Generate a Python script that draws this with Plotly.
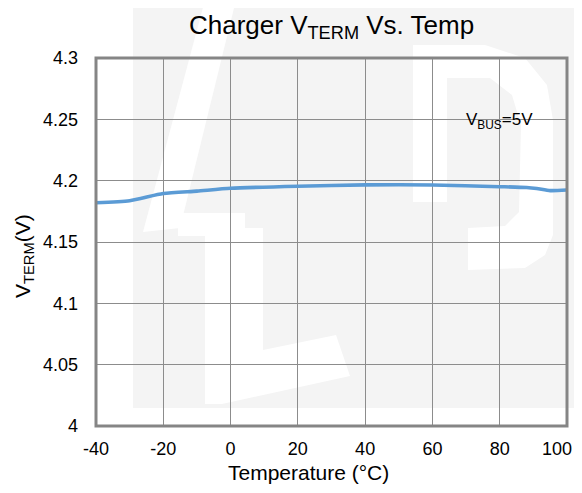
import plotly.graph_objects as go

# ---- data ----
temps = [-40, -30, -20, -10, 0, 20, 40, 60, 80, 88, 91, 95, 100]
vterm = [4.182, 4.1837, 4.1895, 4.1915, 4.1938, 4.1955, 4.1966, 4.1965, 4.1951, 4.1944, 4.1936, 4.1919, 4.1924]
x_ticks = [-40, -20, 0, 20, 40, 60, 80, 100]
x_ticklabels = ["-40", "-20", "0", "20", "40", "60", "80", "100\u2007\u2007"]
y_ticks = [4.0, 4.05, 4.1, 4.15, 4.2, 4.25, 4.3]
y_ticklabels = ["4", "4.05", "4.1", "4.15", "4.2", "4.25", "4.3"]

FONT = "Liberation Sans, Arial, sans-serif"
OFF = 8                      # page body margin in the browser
W, H = 582 - OFF, 493 - 2 * OFF
L, R, T, B = 96, 567, 58, 426  # plot area in page pixels


def px(X):
    return (X - L) / (R - L)


def py(Y):
    return (B - Y) / (B - T)


def path(points):
    return "M " + " L ".join(f"{px(x):.4f},{py(y):.4f}" for x, y in points) + " Z"


fig = go.Figure()
fig.add_trace(go.Scatter(
    x=temps, y=vterm, mode="lines",
    line=dict(color="#5B9BD5", width=3.6, shape="spline", smoothing=0.6),
    showlegend=False, hoverinfo="skip",
))

shapes = []
# faint watermark background
shapes.append(dict(type="rect", xref="paper", yref="paper", layer="below",
                   x0=px(133), x1=px(590), y0=py(408), y1=py(0),
                   fillcolor="#f4f4f4", line=dict(width=0)))
white = dict(fillcolor="#ffffff", line=dict(width=0), layer="below",
             xref="paper", yref="paper", type="path")
# diagonal stroke
shapes.append(dict(white, path=path([(205, 0), (236, 0), (180, 228), (143, 232)])))
# t / L shape
shapes.append(dict(white, path=path([(178, 213), (245, 213), (245, 228), (263, 228),
                                     (263, 350), (336, 335), (350, 376), (222, 404),
                                     (205, 404), (205, 236), (178, 236)])))
# arch / hook shape on the right
shapes.append(dict(white, path=path([(413, 45), (485, 45), (525, 58), (547, 85), (553, 120),
                                     (553, 235), (545, 255), (525, 268), (468, 270),
                                     (468, 228), (505, 226), (519, 212), (521, 125),
                                     (512, 95), (490, 78), (447, 78), (447, 202), (413, 202)])))
# plot frame
shapes.append(dict(type="rect", xref="paper", yref="paper", layer="above",
                   x0=0, x1=1, y0=0, y1=1, line=dict(color="#858585", width=3),
                   fillcolor="rgba(0,0,0,0)"))

fig.update_layout(
    width=W, height=H, autosize=False,
    margin=dict(l=L - OFF, r=(W + OFF) - R, t=T - OFF, b=(H + OFF) - B, pad=0),
    paper_bgcolor="#ffffff", plot_bgcolor="rgba(0,0,0,0)",
    font=dict(family=FONT, color="#000000"),
    shapes=shapes,
    showlegend=False,
    annotations=[
        dict(text="Charger V<sub>TERM</sub> Vs. Temp", xref="paper", yref="paper",
             x=px(331), y=py(27), xanchor="center", yanchor="middle",
             showarrow=False, font=dict(size=26, family=FONT, color="#000")),
        dict(text="Temperature (°C)", xref="paper", yref="paper",
             x=px(308), y=py(472), xanchor="center", yanchor="middle",
             showarrow=False, font=dict(size=21, family=FONT, color="#000")),
        dict(text="V<sub>TERM</sub>(V)", xref="paper", yref="paper",
             x=px(24), y=py(256), xanchor="center", yanchor="middle", textangle=-90,
             showarrow=False, font=dict(size=21, family=FONT, color="#000")),
        dict(text="V<sub>BUS</sub>=5V", xref="x", yref="y",
             x=80, y=4.25, xanchor="center", yanchor="middle", yshift=-2,
             showarrow=False, font=dict(size=17, family=FONT, color="#000")),
    ],
)
fig.update_xaxes(
    range=[-40, 100], tickvals=x_ticks, ticktext=x_ticklabels,
    showgrid=True, gridcolor="#8c8c8c", gridwidth=1, zeroline=False,
    showline=False, ticks="", ticklabelstandoff=10, ticklabeloverflow="allow",
    automargin=False,
    tickfont=dict(size=18, family=FONT, color="#000"), fixedrange=True,
)
fig.update_yaxes(
    range=[4.0, 4.3], tickvals=y_ticks, ticktext=y_ticklabels,
    showgrid=True, gridcolor="#8c8c8c", gridwidth=1, zeroline=False,
    showline=False, ticks="", ticklabelstandoff=17, ticklabeloverflow="allow",
    automargin=False,
    tickfont=dict(size=18, family=FONT, color="#000"), fixedrange=True,
)

fig.write_html("out.html")
